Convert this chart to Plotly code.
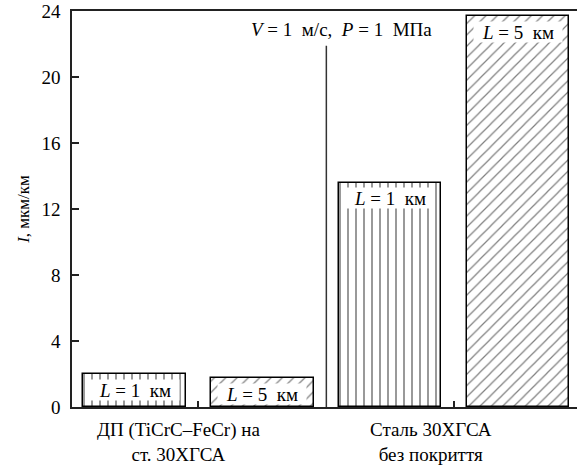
import plotly.graph_objects as go

# Data
positions = [0, 1, 2, 3]
values = [2.0, 1.75, 13.6, 23.7]
patterns = ["|", "/", "|", "/"]
bar_labels = ["<i>L</i> = 1  км", "<i>L</i> = 5  км", "<i>L</i> = 1  км", "<i>L</i> = 5  км"]
group_labels = ["ДП (TiCrC–FeCr) на<br>ст. 30ХГСА", "Сталь 30ХГСА<br>без покриття"]
group_label_x = [0.34, 2.32]
y_ticks = [0, 4, 8, 12, 16, 20, 24]

FONT = "Liberation Serif, Times New Roman, DejaVu Serif, serif"

fig = go.Figure()
fig.add_trace(go.Bar(
    x=positions, y=values, width=0.8,
    marker=dict(
        color="white",
        line=dict(color="black", width=1.5),
        pattern=dict(shape=patterns, fgcolor="black", bgcolor="white",
                     size=[8, 8, 8, 8], solidity=[0.2, 0.15, 0.2, 0.15], fillmode="overlay"),
    ),
    showlegend=False,
    hoverinfo="skip",
))

annotations = []
for xp, v, lab in zip(positions, values, bar_labels):
    annotations.append(dict(
        x=xp, y=v - 0.95, xref="x", yref="y", text=lab, showarrow=False,
        font=dict(family=FONT, size=19, color="black"),
        bgcolor="white", borderpad=0, width=88, height=20,
    ))
for xp, lab in zip(group_label_x, group_labels):
    annotations.append(dict(
        x=xp, y=-0.025, xref="x", yref="paper", yanchor="top", text=lab,
        showarrow=False, align="center",
        font=dict(family=FONT, size=19, color="black"),
    ))
annotations.append(dict(
    x=1.62, y=22.9, xref="x", yref="y",
    text="<i>V</i> = 1  м/с,  <i>P</i> = 1  МПа", showarrow=False,
    font=dict(family=FONT, size=19, color="black"),
))

fig.add_shape(type="line", x0=1.5, x1=1.5, y0=0, y1=21.9, xref="x", yref="y",
              line=dict(color="#333", width=1.5))

fig.update_layout(
    width=577, height=466,
    margin=dict(l=72, r=0, t=11, b=59, autoexpand=False),
    plot_bgcolor="white", paper_bgcolor="white",
    annotations=annotations,
    font=dict(family=FONT, size=18, color="black"),
    bargap=0,
    hovermode=False,
)
fig.update_xaxes(
    range=[-0.489, 3.46], showline=True, linecolor="#222", linewidth=1.5,
    mirror=True, tickvals=[0.5, 2.5], ticks="inside", ticklen=6,
    tickcolor="#222", tickwidth=1.5, showticklabels=False, showgrid=False, zeroline=False,
    automargin=False,
)
fig.update_yaxes(
    range=[0, 24], showline=True, linecolor="#222", linewidth=1.5,
    tickvals=y_ticks, ticktext=[str(t) for t in y_ticks], ticks="inside", ticklen=7,
    tickcolor="#222", tickwidth=1.5, showgrid=False, zeroline=False,
    ticklabelstandoff=6, automargin=False, ticklabeloverflow="allow",
    tickfont=dict(family=FONT, size=19, color="black"),
    title=dict(text="<i>I</i>, мкм/км", font=dict(family=FONT, size=17, color="black"), standoff=8),
)

fig.write_html("out.html", config={"displayModeBar": False},
               post_script="document.body.style.margin='0';document.body.style.padding='0';")
